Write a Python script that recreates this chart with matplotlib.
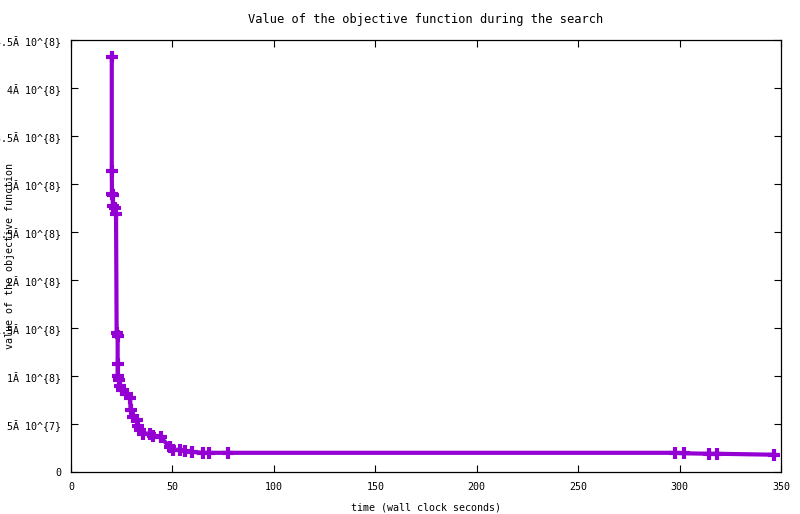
import numpy as np
import matplotlib.pyplot as plt

# wall clock seconds and objective value (in units of 1e8)
t = [20.1, 20.1, 20.2, 20.6, 20.6, 21.7, 22.2, 22.5, 23.0, 23.0, 23.0, 23.8,
     24.2, 25.3, 27.5, 29.1, 29.4, 30.4, 32.4, 33.2, 34.0, 35.6, 38.9, 40.6,
     44.2, 48.8, 50.1, 53.7, 56.2, 59.8, 64.9, 68.0, 77.2, 297.7, 302.2,
     314.7, 318.3, 346.7]
obj = [4.32, 3.14, 2.90, 2.885, 2.77, 2.75, 2.69, 1.45, 1.42, 1.12, 1.00, 0.96,
       0.90, 0.85, 0.81, 0.77, 0.65, 0.57, 0.54, 0.48, 0.44, 0.40, 0.40, 0.38,
       0.36, 0.26, 0.23, 0.23, 0.22, 0.21, 0.20, 0.20, 0.20, 0.20, 0.195,
       0.19, 0.19, 0.18]

yticks = [0, 0.5, 1, 1.5, 2, 2.5, 3, 3.5, 4, 4.5]
ylabels = ['0', '5\u0102 10^{7}', '1\u0102 10^{8}', '1.5\u0102 10^{8}', '2\u0102 10^{8}',
           '2.5\u0102 10^{8}', '3\u0102 10^{8}', '3.5\u0102 10^{8}', '4\u0102 10^{8}',
           '4.5\u0102 10^{8}']
xticks = [0, 50, 100, 150, 200, 250, 300, 350]

plt.rcParams['font.family'] = 'DejaVu Sans Mono'
plt.rcParams['font.size'] = 7.2

fig = plt.figure(figsize=(8, 5.14), dpi=100)
ax = fig.add_axes([71/800, 42/514, 710/800, 432/514])
ax.plot(t, obj, color='#9400d3', lw=3, marker='+', ms=8, mew=3)
ax.set_xlim(0, 350)
ax.set_ylim(0, 4.5)
ax.set_xticks(xticks)
ax.set_yticks(yticks)
ax.set_yticklabels(ylabels)
ax.tick_params(direction='in', length=5, width=0.8, top=True, right=True, pad=7)
for s in ax.spines.values():
    s.set_linewidth(0.9)
ax.set_title('Value of the objective function during the search', pad=12)
ax.set_xlabel('time (wall clock seconds)', labelpad=8)
fig.text(10/800, 1 - 256/514, 'value of the objective function', rotation=90,
         ha='center', va='center')
fig.savefig('out.png', dpi=100)
